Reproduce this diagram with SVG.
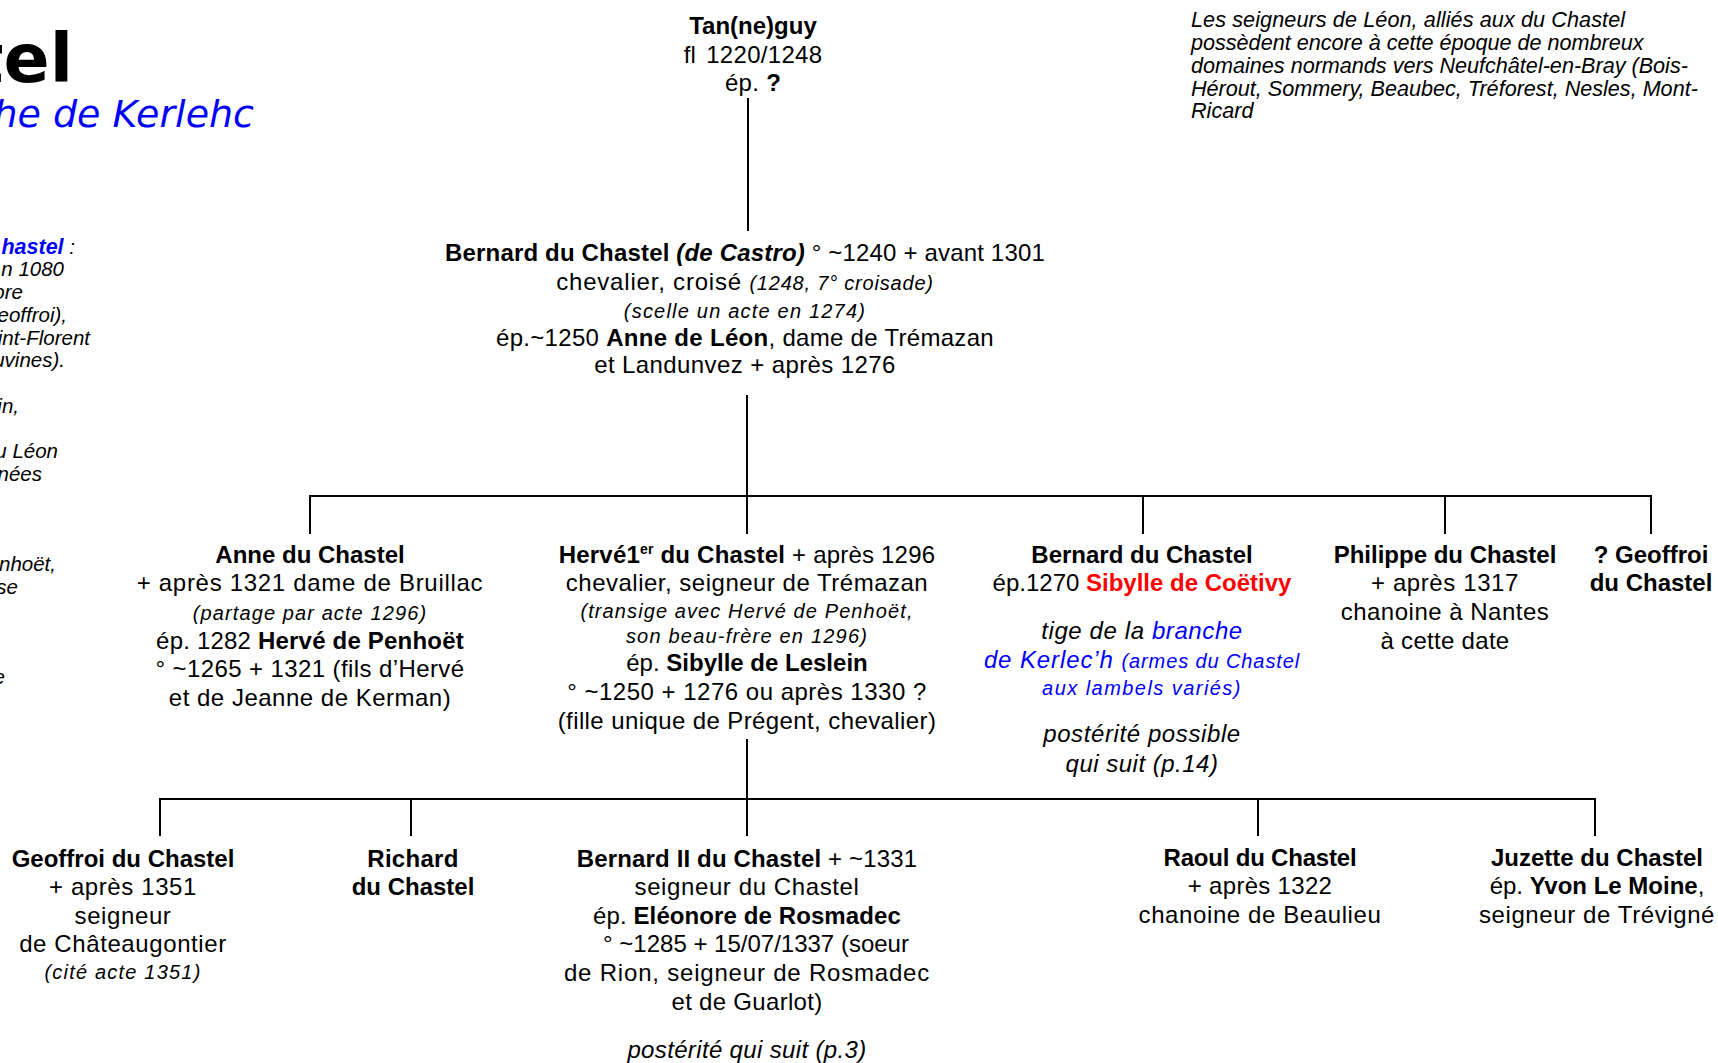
<svg xmlns="http://www.w3.org/2000/svg" width="1718" height="1063" viewBox="0 0 1718 1063">
<style>
.t{font-family:"Liberation Sans",Arial,sans-serif;font-size:24px;fill:#000;text-anchor:middle;letter-spacing:0.3px}
.b{font-weight:bold}
.i{font-style:italic}
.s{font-size:20px}
.sp{letter-spacing:0.6px}
.si{letter-spacing:1.1px}
.z{letter-spacing:0px}
.blue{fill:#0000FF}
.red{fill:#FF0000}
.note{font-family:"Liberation Sans",Arial,sans-serif;font-style:italic;font-size:20.5px;fill:#000;text-anchor:end}
.rnote{font-family:"Liberation Sans",Arial,sans-serif;font-style:italic;font-size:21.6px;fill:#000}
.ttl{font-family:"DejaVu Sans",Verdana,sans-serif}
.ln{stroke:#000;stroke-width:2;fill:none}
</style>
<rect width="1718" height="1063" fill="#fff"/>
<g id="title">
<text class="ttl" x="73" y="82" font-size="68" font-weight="bold" text-anchor="end">tel</text>
<text class="ttl" x="254" y="127" font-size="38" font-style="italic" fill="#0000FF" text-anchor="end">he de Kerlehc</text>
</g>
<g id="left-notes">
<text class="note" x="75" y="254"><tspan class="b" fill="#0000FF" style="font-size:21.5px">hastel</tspan> :</text>
<text class="note" x="64" y="276">n 1080</text>
<text class="note" x="23" y="299">ore</text>
<text class="note" x="67" y="322">eoffroi),</text>
<text class="note" x="90" y="345">int-Florent</text>
<text class="note" x="65" y="367">uvines).</text>
<text class="note" x="19" y="413">in,</text>
<text class="note" x="58" y="458">u Léon</text>
<text class="note" x="42" y="481">nées</text>
<text class="note" x="56" y="571">nhoët,</text>
<text class="note" x="18" y="594">se</text>
<text class="note" x="5" y="684">e</text>
</g>
<g id="right-note">
<text class="rnote" x="1191" y="27" style="letter-spacing:0.1px">Les seigneurs de Léon, alliés aux du Chastel</text>
<text class="rnote" x="1191" y="50">possèdent encore à cette époque de nombreux</text>
<text class="rnote" x="1191" y="73">domaines normands vers Neufchâtel-en-Bray (Bois-</text>
<text class="rnote" x="1191" y="96">Hérout, Sommery, Beaubec, Tréforest, Nesles, Mont-</text>
<text class="rnote" x="1191" y="118">Ricard</text>
</g>
<g id="connectors">
<path class="ln" d="M748 98V231"/>
<path class="ln" d="M747 395V496"/>
<path class="ln" d="M310 496H1651"/>
<path class="ln" d="M310 495V534M747 495V534M1143 495V534M1445 495V534M1651 495V534"/>
<path class="ln" d="M747 739V799"/>
<path class="ln" d="M160 799H1595"/>
<path class="ln" d="M160 798V836M411 798V836M747 798V836M1258 798V836M1595 798V836"/>
</g>
<g id="n-tanneguy">
<text class="t b z" x="753" y="34">Tan(ne)guy</text>
<text class="t" x="753" y="63" word-spacing="3">fl 1220/1248</text>
<text class="t" x="753" y="91">ép. <tspan class="b">?</tspan></text>
</g>
<g id="n-bernard">
<text class="t" x="745" y="261" style="letter-spacing:0.17px"><tspan class="b">Bernard du Chastel </tspan><tspan class="b i">(de Castro)</tspan> ° ~1240 + avant 1301</text>
<text class="t" x="745" y="290" style="letter-spacing:0.8px">chevalier, croisé <tspan class="i s">(1248, 7° croisade)</tspan></text>
<text class="t i s" x="745" y="318" style="letter-spacing:1.2px">(scelle un acte en 1274)</text>
<text class="t" x="745" y="346">ép.~1250 <tspan class="b">Anne de Léon</tspan>, dame de Trémazan</text>
<text class="t" x="745" y="373" style="letter-spacing:0.4px">et Landunvez + après 1276</text>
</g>
<g id="n-anne">
<text class="t b z" x="310" y="563">Anne du Chastel</text>
<text class="t" x="310" y="591" style="letter-spacing:0.7px">+ après 1321 dame de Bruillac</text>
<text class="t i s si" x="310" y="620">(partage par acte 1296)</text>
<text class="t" x="310" y="649" style="letter-spacing:0.2px">ép. 1282 <tspan class="b">Hervé de Penhoët</tspan></text>
<text class="t" x="310" y="677" style="letter-spacing:0.4px">° ~1265 + 1321 (fils d’Hervé</text>
<text class="t" x="310" y="706" style="letter-spacing:0.5px">et de Jeanne de Kerman)</text>
</g>
<g id="n-herve">
<text class="t" x="747" y="563" style="letter-spacing:0.2px"><tspan class="b">Hervé1</tspan><tspan class="b" font-size="14" dy="-9">er</tspan><tspan class="b" dy="9"> du Chastel</tspan> + après 1296</text>
<text class="t" x="747" y="591" style="letter-spacing:0.5px">chevalier, seigneur de Trémazan</text>
<text class="t i s si" x="747" y="618">(transige avec Hervé de Penhoët,</text>
<text class="t i s" x="747" y="643" style="letter-spacing:1.2px">son beau-frère en 1296)</text>
<text class="t z" x="747" y="671">ép. <tspan class="b">Sibylle de Leslein</tspan></text>
<text class="t" x="747" y="700" style="letter-spacing:0.5px">° ~1250 + 1276 ou après 1330 ?</text>
<text class="t" x="747" y="729" style="letter-spacing:0.4px">(fille unique de Prégent, chevalier)</text>
</g>
<g id="n-bernard-kerlech">
<text class="t b z" x="1142" y="563">Bernard du Chastel</text>
<text class="t z" x="1142" y="591">ép.1270 <tspan class="b red">Sibylle de Coëtivy</tspan></text>
<text class="t i sp" x="1142" y="639">tige de la <tspan class="blue">branche</tspan></text>
<text class="t i blue" x="1142" y="668" style="letter-spacing:0.9px">de Kerlec’h <tspan class="s">(armes du Chastel</tspan></text>
<text class="t i s blue" x="1142" y="695" style="letter-spacing:1.45px">aux lambels variés)</text>
<text class="t i sp" x="1142" y="742">postérité possible</text>
<text class="t i" x="1142" y="772" style="letter-spacing:0.5px">qui suit (p.14)</text>
</g>
<g id="n-philippe">
<text class="t b z" x="1445" y="563">Philippe du Chastel</text>
<text class="t sp" x="1445" y="591">+ après 1317</text>
<text class="t" x="1445" y="620" style="letter-spacing:0.5px">chanoine à Nantes</text>
<text class="t" x="1445" y="649">à cette date</text>
</g>
<g id="n-geoffroi1">
<text class="t b z" x="1651" y="563">? Geoffroi</text>
<text class="t b z" x="1651" y="591">du Chastel</text>
</g>
<g id="n-geoffroi2">
<text class="t b z" x="123" y="867">Geoffroi du Chastel</text>
<text class="t sp" x="123" y="895">+ après 1351</text>
<text class="t sp" x="123" y="924">seigneur</text>
<text class="t sp" x="123" y="952">de Châteaugontier</text>
<text class="t i s" x="123" y="979" style="letter-spacing:1.2px">(cité acte 1351)</text>
</g>
<g id="n-richard">
<text class="t b" x="413" y="867">Richard</text>
<text class="t b z" x="413" y="895">du Chastel</text>
</g>
<g id="n-bernard2">
<text class="t" x="747" y="867" style="letter-spacing:0.15px"><tspan class="b">Bernard II du Chastel</tspan> + ~1331</text>
<text class="t sp" x="747" y="895">seigneur du Chastel</text>
<text class="t" x="747" y="924" style="letter-spacing:0.1px">ép. <tspan class="b">Eléonore de Rosmadec</tspan></text>
<text class="t z" x="756" y="952">° ~1285 + 15/07/1337 (soeur</text>
<text class="t" x="747" y="981" style="letter-spacing:0.8px">de Rion, seigneur de Rosmadec</text>
<text class="t" x="747" y="1010">et de Guarlot)</text>
<text class="t i" x="747" y="1058" style="letter-spacing:0.35px">postérité qui suit (p.3)</text>
</g>
<g id="n-raoul">
<text class="t b" x="1260" y="866" style="letter-spacing:-0.2px">Raoul du Chastel</text>
<text class="t" x="1260" y="894">+ après 1322</text>
<text class="t sp" x="1260" y="923">chanoine de Beaulieu</text>
</g>
<g id="n-juzette">
<text class="t b z" x="1597" y="866">Juzette du Chastel</text>
<text class="t z" x="1597" y="894">ép. <tspan class="b">Yvon Le Moine</tspan>,</text>
<text class="t sp" x="1597" y="923">seigneur de Trévigné</text>
</g>
</svg>
